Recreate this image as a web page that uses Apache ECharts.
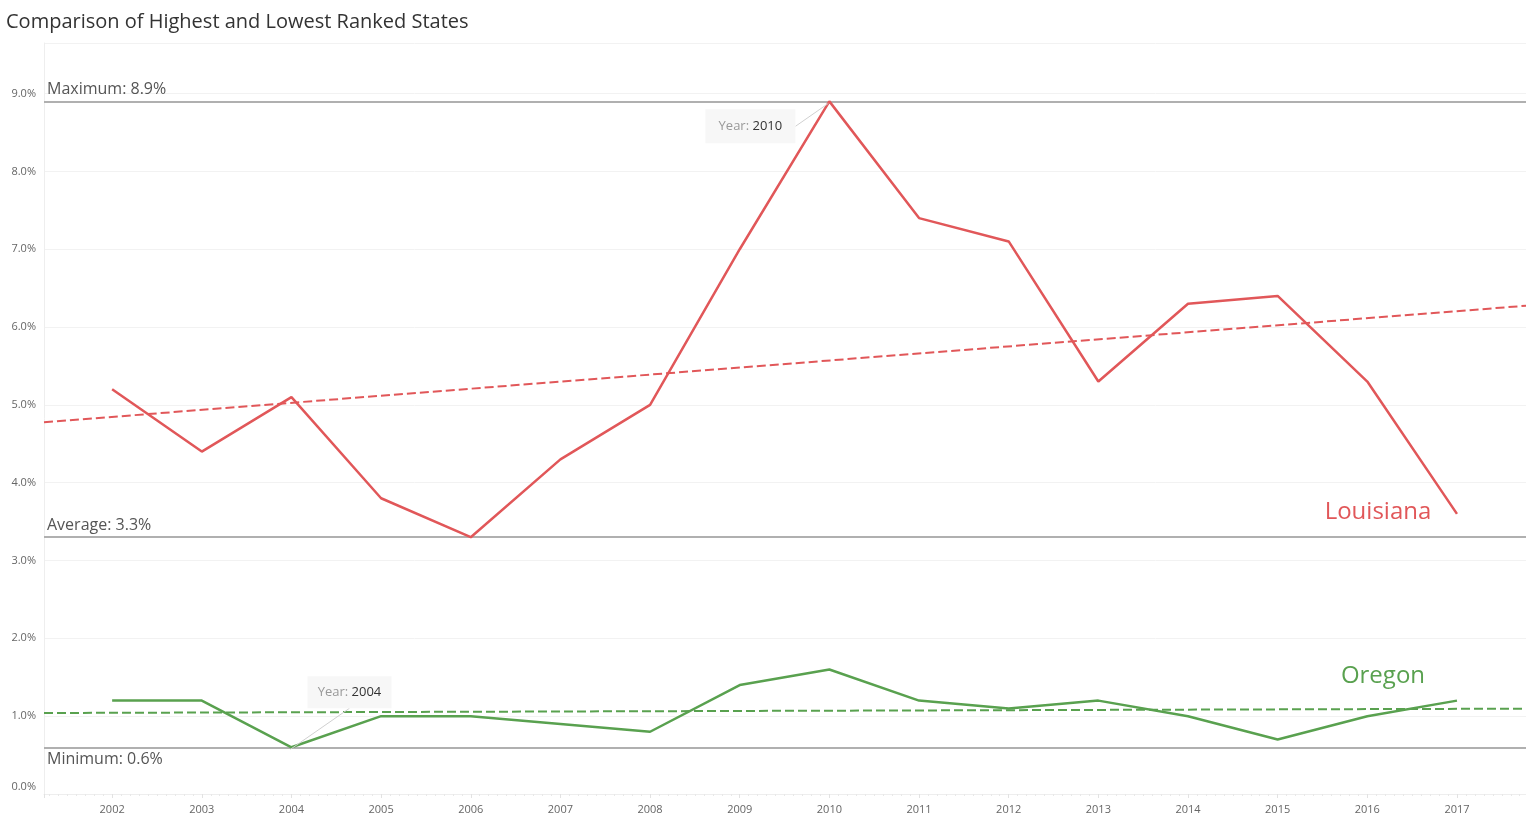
<!DOCTYPE html>
<html><head><meta charset="utf-8">
<script src="https://cdn.jsdelivr.net/npm/echarts@6/dist/echarts.min.js"></script>
<style>html,body{margin:0;padding:0;background:#fff}#c{width:1526px;height:824px}</style>
</head><body><div id="c"></div>
<script>
const titleText = 'Comparison of Highest and Lowest Ranked States';
const years = [2002,2003,2004,2005,2006,2007,2008,2009,2010,2011,2012,2013,2014,2015,2016,2017];
const louisiana = [5.2,4.4,5.1,3.8,3.3,4.3,5.0,7.0,8.9,7.4,7.1,5.3,6.3,6.4,5.3,3.6];
const oregon = [1.2,1.2,0.6,1.0,1.0,0.9,0.8,1.4,1.6,1.2,1.1,1.2,1.0,0.7,1.0,1.2];
const seriesNames = ['Louisiana','Oregon'];
const annotatedYears = [2010, 2004];

const RED = '#e15759', GREEN = '#59a14f';
const X_MIN = 2001.24, X_MAX = 2017.77, Y_MAX = 9.65;

function trend(xs, ys){
  const n = xs.length;
  const mx = xs.reduce((a,b)=>a+b,0)/n, my = ys.reduce((a,b)=>a+b,0)/n;
  let sxy=0,sxx=0;
  for(let i=0;i<n;i++){sxy+=(xs[i]-mx)*(ys[i]-my);sxx+=(xs[i]-mx)**2;}
  const b=sxy/sxx, a=my-b*mx;
  return [[X_MIN,a+b*X_MIN],[X_MAX,a+b*X_MAX]];
}
const all = louisiana.concat(oregon);
const maxV = Math.max(...all), minV = Math.min(...all);
const avgV = all.reduce((a,b)=>a+b,0)/all.length;

const isInt = v => Math.abs(v-Math.round(v))<1e-6;
const pair = arr => years.map((y,i)=>[y,arr[i]]);
const chart = echarts.init(document.getElementById('c'));
const refLabel = {color:'#555', fontSize:16, fontFamily:'Open Sans'};
chart.setOption({
  animation:false,
  title:{text:titleText,left:1,top:7,textStyle:{fontFamily:'Open Sans',fontSize:20,fontWeight:'normal',color:'#333'}},
  grid:{left:44,right:0,top:43,bottom:30,containLabel:false,outerBoundsMode:'none'},
  xAxis:{type:'value',min:X_MIN,max:X_MAX,minInterval:1,maxInterval:1,
    axisLine:{show:true,lineStyle:{color:'#eeeeee'}},
    axisTick:{show:true,length:4,lineStyle:{color:'#e2e2e2'}},
    minorTick:{show:true,splitNumber:10,length:2,lineStyle:{color:'#e8e8e8'}},
    splitLine:{show:false},
    axisLabel:{color:'#666',fontSize:11,fontFamily:'Open Sans',margin:10,
      formatter:v=>isInt(v)?String(Math.round(v)):''}},
  yAxis:{type:'value',min:0,max:Y_MAX,minInterval:1,maxInterval:1,
    axisLine:{show:true,lineStyle:{color:'#eeeeee'}},
    axisTick:{show:false},
    splitLine:{show:true,lineStyle:{color:'#f2f2f2'}},
    axisLabel:{color:'#666',fontSize:11,fontFamily:'Open Sans',margin:8,
      formatter:v=>isInt(v)?(Math.round(v)===0?'{z|0.0%}':Math.round(v).toFixed(1)+'%'):'',
      rich:{z:{color:'#666',fontSize:11,fontFamily:'Open Sans',padding:[0,0,14,0]}}}},
  series:[
    {name:seriesNames[0],type:'line',data:pair(louisiana),symbol:'none',lineStyle:{color:RED,width:2.5},z:5,
     markLine:{silent:true,symbol:'none',lineStyle:{color:'#b0b0b0',width:2,type:'solid'},
       data:[
        {yAxis:maxV,label:{...refLabel,position:'insideStartTop',distance:[3,4],formatter:'Maximum: '+maxV.toFixed(1)+'%'}},
        {yAxis:avgV,label:{...refLabel,position:'insideStartTop',distance:[3,4],formatter:'Average: '+avgV.toFixed(1)+'%'}},
        {yAxis:minV,label:{...refLabel,position:'insideStartBottom',distance:[3,4],formatter:'Minimum: '+minV.toFixed(1)+'%'}}
       ]}},
    {name:seriesNames[1],type:'line',data:pair(oregon),symbol:'none',lineStyle:{color:GREEN,width:2.5},z:5},
    {name:'trendL',type:'line',data:trend(years,louisiana),symbol:'none',lineStyle:{color:RED,width:2,type:[9,4]},z:4},
    {name:'trendO',type:'line',data:trend(years,oregon),symbol:'none',lineStyle:{color:GREEN,width:2,type:[9,4]},z:4}
  ]
});

const g = [];
const annSpecs = [
  {year:annotatedYears[0], data:louisiana, dx:-124, dy:8, w:90, h:34},
  {year:annotatedYears[1], data:oregon, dx:16, dy:-71, w:84, h:32}
];
annSpecs.forEach(s=>{
  const i = years.indexOf(s.year);
  const p = chart.convertToPixel({seriesIndex:0},[s.year,s.data[i]]);
  const bx = p[0]+s.dx, by = p[1]+s.dy;
  let lx, ly;
  if (s.dx<0){lx=bx+s.w; ly=by+s.h/2;} else {lx=bx+s.w/2; ly=by+s.h;}
  g.push({type:'line',shape:{x1:lx,y1:ly,x2:p[0]-1,y2:p[1]+2},style:{stroke:'#d0d0d0',lineWidth:1},z:10});
  g.push({type:'rect',shape:{x:bx,y:by,width:s.w,height:s.h},style:{fill:'#f7f7f7'},z:11});
  g.push({type:'text',x:bx+s.w/2,y:by+s.h/2,style:{text:'{a|Year: }{b|'+s.year+'}',align:'center',verticalAlign:'middle',
    rich:{a:{fill:'#999',fontSize:13,fontFamily:'Open Sans'},b:{fill:'#333',fontSize:13,fontFamily:'Open Sans'}}},z:12});
});
const endSpecs = [{name:seriesNames[0],data:louisiana,color:RED,dx:-79,dy:-2},{name:seriesNames[1],data:oregon,color:GREEN,dx:-74,dy:-24}];
endSpecs.forEach(s=>{
  const last = years.length-1;
  const p = chart.convertToPixel({seriesIndex:0},[years[last],s.data[last]]);
  g.push({type:'text',x:p[0]+s.dx,y:p[1]+s.dy,style:{text:s.name,fill:s.color,fontSize:24,fontFamily:'Open Sans',align:'center',verticalAlign:'middle'},z:12});
});
chart.setOption({graphic:g});
</script></body></html>
